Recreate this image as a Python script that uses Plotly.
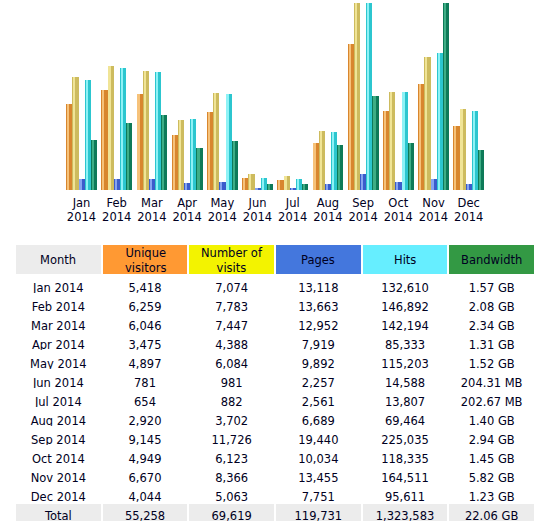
import plotly.graph_objects as go

W, H = 557, 532

months = ['Jan', 'Feb', 'Mar', 'Apr', 'May', 'Jun', 'Jul', 'Aug', 'Sep', 'Oct', 'Nov', 'Dec']
year = '2014'
visitors = [5418, 6259, 6046, 3475, 4897, 781, 654, 2920, 9145, 4949, 6670, 4044]
visits = [7074, 7783, 7447, 4388, 6084, 981, 882, 3702, 11726, 6123, 8366, 5063]
pages = [13118, 13663, 12952, 7919, 9892, 2257, 2561, 6689, 19440, 10034, 13455, 7751]
hits = [132610, 146892, 142194, 85333, 115203, 14588, 13807, 69464, 225035, 118335, 164511, 95611]
bandwidth_gb = [1.57, 2.08, 2.34, 1.31, 1.52, 204.31 / 1024, 202.67 / 1024, 1.40, 2.94, 1.45, 5.82, 1.23]
bandwidth_txt = ['1.57 GB', '2.08 GB', '2.34 GB', '1.31 GB', '1.52 GB', '204.31 MB', '202.67 MB',
                 '1.40 GB', '2.94 GB', '1.45 GB', '5.82 GB', '1.23 GB']
totals = ['Total', '55,258', '69,619', '119,731', '1,323,583', '22.06 GB']

headers = ['Month', 'Unique<br>visitors', 'Number of<br>visits', 'Pages', 'Hits', 'Bandwidth']
head_colors = ['#ECECEC', '#FF9933', '#F3F300', '#4477DD', '#66EEFF', '#339944']

x_labels = [m + '<br>' + year for m in months]

# (values, axis, base colour, highlight colour)
series = [
    (visitors, 'y', '#D8862E', '#F6C27A'),
    (visits, 'y', '#CDBB5E', '#F0E496'),
    (pages, 'y2', '#3A5CCB', '#86A4F0'),
    (hits, 'y2', '#2CC6CF', '#8EF2F6'),
    (bandwidth_gb, 'y3', '#0E7A58', '#3FAE86'),
]

bw = 0.176
fig = go.Figure()
for i, (vals, ax, col, light) in enumerate(series):
    off = -0.44 + i * bw
    fig.add_trace(go.Bar(x=x_labels, y=vals, yaxis=ax, width=bw, offset=off,
                         marker=dict(color=col, line=dict(width=0)), showlegend=False,
                         hoverinfo='y'))
    fig.add_trace(go.Bar(x=x_labels, y=vals, yaxis=ax, width=bw * 0.35, offset=off + bw * 0.15,
                         marker=dict(color=light, line=dict(width=0)), showlegend=False,
                         hoverinfo='skip'))

fmt = lambda v: f'{v:,}'
cells = [
    [m + ' ' + year for m in months] + [totals[0]],
    [fmt(v) for v in visitors] + [totals[1]],
    [fmt(v) for v in visits] + [totals[2]],
    [fmt(v) for v in pages] + [totals[3]],
    [fmt(v) for v in hits] + [totals[4]],
    bandwidth_txt + [totals[5]],
]
fills = [['white'] * 12 + ['#ECECEC'] for _ in cells]

tx0, tx1 = 15, 535
tfont = dict(family='DejaVu Sans', size=11.5, color='#000022')
fig.add_trace(go.Table(
    domain=dict(x=[tx0 / W, tx1 / W], y=[0, (H - 244) / H]),
    columnwidth=[1] * 6,
    header=dict(values=[''] * 6, fill_color=head_colors, height=31,
                line=dict(color='white', width=2), font=tfont, align='center'),
    cells=dict(values=cells, fill_color=fills, height=19,
               line=dict(color='white', width=2), font=tfont, align='center'),
))

# header labels, centred in each header cell
colw = (tx1 - tx0) / len(headers)
for j, h in enumerate(headers):
    fig.add_annotation(x=(tx0 + colw * (j + 0.5)) / W, y=(H - 260) / H,
                       xref='paper', yref='paper', text=h, showarrow=False,
                       xanchor='center', yanchor='middle', font=tfont)

x0, x1 = 63.9 / W, 486.3 / W
y0, y1 = (H - 190) / H, (H - 3) / H
fig.update_layout(
    width=W, height=H,
    margin=dict(l=0, r=0, t=0, b=0),
    paper_bgcolor='white', plot_bgcolor='white',
    font=tfont,
    barmode='overlay', bargap=0,
    xaxis=dict(domain=[x0, x1], showgrid=False, zeroline=False, showline=False,
               ticks='', ticklabelstandoff=4, tickfont=dict(size=11.5)),
    yaxis=dict(domain=[y0, y1], range=[0, max(visits)], visible=False),
    yaxis2=dict(overlaying='y', range=[0, max(hits)], visible=False),
    yaxis3=dict(overlaying='y', range=[0, max(bandwidth_gb)], visible=False),
)

fig.write_html('out.html', config={'displayModeBar': False},
               post_script="document.body.style.margin='0';document.body.style.overflow='hidden';")
